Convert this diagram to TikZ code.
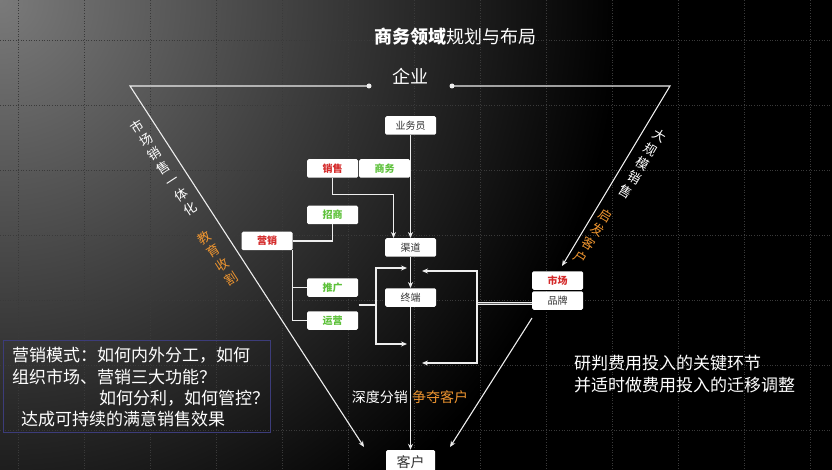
\documentclass[tikz,border=0pt]{standalone}
\usepackage{fontspec}
\setmainfont{Noto Sans CJK SC}
\usetikzlibrary{arrows.meta,fadings,calc}
\definecolor{lnc}{HTML}{EEEEEE}
\definecolor{redt}{HTML}{D42A2A}
\definecolor{greent}{HTML}{5DC13A}
\definecolor{orng}{HTML}{EE9530}
\definecolor{boxt}{HTML}{333333}
\definecolor{framec}{HTML}{3C3C7A}
\definecolor{bgl}{HTML}{7A7A7A}
\definecolor{gridc}{HTML}{3A3A3A}
\begin{document}
\begin{tikzpicture}[x=1pt,y=-1pt,
  lbox/.style={fill=white, rounded corners=1.5pt, minimum width=51pt, minimum height=18.5pt, inner sep=0pt, font=\fontsize{10}{12}\selectfont, text=boxt},
  rbox/.style={lbox, font=\fontsize{10}{12}\selectfont\bfseries, text=redt},
  gbox/.style={lbox, font=\fontsize{10}{12}\selectfont\bfseries, text=greent},
  ln/.style={draw=lnc, line width=1.1pt},
  arr/.style={ln, -{Stealth[length=6pt,width=5pt]}},
  vtxt/.style={align=center, font=\fontsize{13}{16.3}\selectfont, inner sep=0pt},
  ptxt/.style={text=white, font=\fontsize{17}{20}\selectfont, anchor=west, inner sep=0pt}
  ]
\useasboundingbox (0,0) rectangle (832,470);
% background
\begin{scope}
  \clip (0,0) rectangle (832,470);
  \fill[black] (0,0) rectangle (832,470);
  \shade[inner color=bgl, outer color=black] (0,0) circle (620);
\end{scope}
\foreach \x in {18,84,...,810} \draw[gridc, dotted, line width=0.6pt] (\x,0) -- (\x,470);
\foreach \y in {40,105,...,430} \draw[gridc, dotted, line width=0.6pt] (0,\y) -- (832,\y);

% title
\node[font=\fontsize{18}{20}\selectfont, text=white] (title) at (455,37) {\textbf{商务领域}规划与布局};
\node[font=\fontsize{18}{20}\selectfont, text=white] (qy) at (410,76) {企业};

% triangle
\coordinate (TL) at (130,86);
\coordinate (TR) at (670,86);
\coordinate (d1) at (369,86);
\coordinate (d2) at (452,86);
\coordinate (LA) at (364,447);
\coordinate (RA) at (562,266);
\coordinate (RB0) at (532,318);
\coordinate (RB1) at (450,447);
\draw[arr] (d1) -- (TL) -- (LA);
\draw[arr] (d2) -- (TR) -- (RA);
\draw[arr] (RB0) -- (RB1);
\fill[lnc] (d1) circle (2.5);
\fill[lnc] (d2) circle (2.5);

% boxes
\node[lbox] (yw) at (410.5,125.5) {业务员};
\node[rbox] (xs) at (332.5,168.5) {销售};
\node[gbox] (sw) at (384.5,168.5) {商务};
\node[gbox] (zs) at (332.5,215) {招商};
\node[rbox] (yx) at (267,241) {营销};
\node[lbox] (qd) at (410.5,247.5) {渠道};
\node[gbox] (tg) at (332.5,287.5) {推广};
\node[gbox] (yy) at (332.5,320.5) {运营};
\node[lbox] (zd) at (410.5,297.5) {终端};
\node[rbox] (sc) at (557.5,280.5) {市场};
\node[lbox] (pp) at (557.5,300.5) {品牌};
\node[lbox, minimum width=49pt, minimum height=24pt, font=\fontsize{14}{16}\selectfont] (kh) at (410.5,462) {客户};

% connectors
\draw[arr] (yw.south) -- (qd.north);
\draw[arr] (xs.south) -- ++(0,17) -| ([xshift=-17pt]qd.north);
\draw[ln] (zs.south) |- (yx.east);
\draw[ln] (yx.south east) |- (yy.west);
\draw[ln] (yx.south east |- tg.west) -- (tg.west);
\draw[arr] (qd.south) -- (zd.north);
\draw[arr] (zd.south) -- (kh.north);

% left bracket
\coordinate (lstem) at (358.5,305);
\coordinate (lj) at (376,305);
\coordinate (la1) at (407,268);
\coordinate (la2) at (407,344);
\draw[ln] (lstem) -- (lj);
\draw[arr] (lj) |- (la1);
\draw[arr] (lj) |- (la2);

% right bracket
\coordinate (rj) at (477,303.5);
\coordinate (ra1) at (422,271);
\coordinate (ra2) at (422,363);
\draw[draw=lnc, double=black!60, double distance=1.4pt, line width=0.8pt] (pp.west |- rj) -- (rj);
\draw[arr] (rj) |- (ra1);
\draw[arr] (rj) |- (ra2);

% labels
\node[text=white, font=\fontsize{14}{16}\selectfont, anchor=east, inner sep=0pt] (sdfx) at (408,397) {深度分销};
\node[text=orng, font=\fontsize{14}{16}\selectfont, anchor=west, inner sep=0pt] (zdkh) at (412,397) {争夺客户};

\node[vtxt, rotate=33, text=white] (t1) at (163.5,167.5) {市\\场\\销\\售\\一\\体\\化};
\node[vtxt, rotate=33, text=orng] (t2) at (218,258) {教\\育\\收\\割};
\node[vtxt, rotate=-31, text=white] (t3) at (642.5,163.5) {大\\规\\模\\销\\售};
\node[vtxt, rotate=-31, text=orng] (t4) at (593,237) {启\\发\\客\\户};

% bottom-left frame
\draw[framec, line width=0.8pt] (3,340) rectangle (270,432);
\node[ptxt] (p1) at (12,355) {营销模式：如何内外分工，如何};
\node[ptxt] (p2) at (12,377) {组织市场、营销三大功能？};
\node[ptxt] (p3) at (99,398) {如何分利，如何管控？};
\node[ptxt] (p4) at (21,419) {达成可持续的满意销售效果};

% right text
\node[ptxt] (r1) at (574,363) {研判费用投入的关键环节};
\node[ptxt] (r2) at (574,385) {并适时做费用投入的迁移调整};
\end{tikzpicture}
\end{document}
